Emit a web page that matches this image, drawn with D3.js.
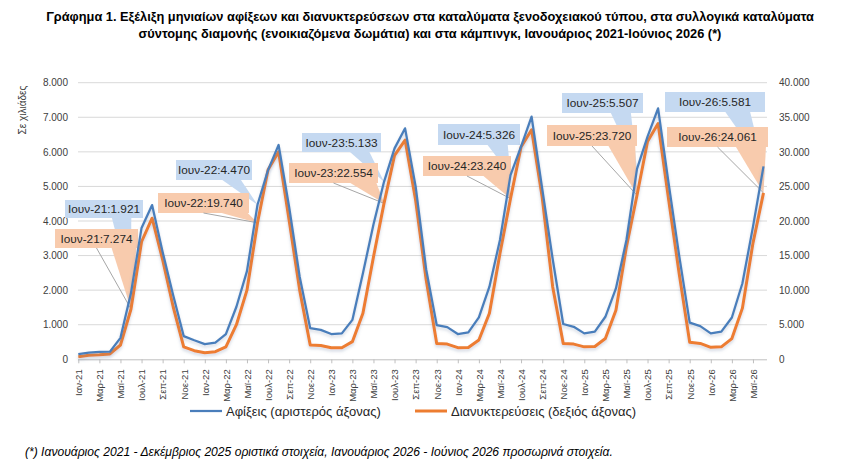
<!DOCTYPE html>
<html>
<head>
<meta charset="utf-8">
<script src="https://cdn.jsdelivr.net/npm/d3@7/dist/d3.min.js"></script>
<style>
  html, body { margin: 0; padding: 0; background: #fff; }
  svg { display: block; }
  text { font-family: "Liberation Sans", Arial, sans-serif; }
</style>
</head>
<body>
<svg id="chart" width="859" height="466"></svg>
<script>
// ---------------- DATA ----------------
const monthNames = ["Ιαν","Φεβ","Μαρ","Απρ","Μαϊ","Ιουν","Ιουλ","Αυγ","Σεπ","Οκτ","Νοε","Δεκ"];
const years = ["21","22","23","24","25","26"];
const categories = [];
years.forEach(y => monthNames.forEach(m => { if (categories.length < 66) categories.push(m + "-" + y); }));

// Arrivals (thousands) – left axis
const arrivals = [
  150, 190, 215, 220, 620, 1921, 3800, 4460, 3100, 1850, 670, 550,
  440, 480, 730, 1520, 2550, 4470, 5470, 6200, 4410, 2390, 900, 850,
  730, 750, 1140, 2490, 3900, 5133, 6100, 6680, 5000, 2600, 990, 930,
  730, 780, 1210, 2100, 3450, 5326, 6150, 7020, 4950, 2900, 1020, 940,
  750, 800, 1230, 2050, 3450, 5507, 6440, 7260, 5090, 3000, 1060, 960,
  750, 800, 1210, 2200, 3830, 5581
];
// Overnight stays (thousands) – right axis
const nights = [
  380, 580, 650, 770, 2070, 7274, 17000, 20400, 14400, 7600, 1800, 1250,
  950, 1100, 1800, 5000, 10000, 19740, 27400, 30000, 20100, 10000, 2070, 2000,
  1680, 1680, 2550, 6650, 14800, 22554, 29500, 31700, 23000, 11500, 2300, 2200,
  1680, 1700, 2800, 6650, 15300, 23240, 30700, 33200, 23500, 10500, 2300, 2200,
  1800, 1850, 3000, 7100, 16300, 23720, 31500, 34100, 23100, 12400, 2450, 2300,
  1730, 1800, 3000, 7400, 16800, 24061
];
const leftTicks = [0, 1000, 2000, 3000, 4000, 5000, 6000, 7000, 8000];
const rightTicks = [0, 5000, 10000, 15000, 20000, 25000, 30000, 35000, 40000];
const calloutMonths = ["Ιουν-21","Ιουν-22","Ιουν-23","Ιουν-24","Ιουν-25","Ιουν-26"];
const seriesNames = ["Αφίξεις (αριστερός άξονας)", "Διανυκτερεύσεις (δεξιός άξονας)"];
const titleLines = [
  "Γράφημα 1. Εξέλιξη μηνιαίων αφίξεων και διανυκτερεύσεων στα καταλύματα ξενοδοχειακού τύπου, στα συλλογικά καταλύματα",
  "σύντομης διαμονής (ενοικιαζόμενα δωμάτια) και στα κάμπινγκ, Ιανουάριος 2021-Ιούνιος 2026 (*)"
];
const yAxisTitle = "Σε χιλιάδες";
const footnote = "(*) Ιανουάριος 2021 - Δεκέμβριος 2025 οριστικά στοιχεία, Ιανουάριος 2026 - Ιούνιος 2026 προσωρινά στοιχεία.";

// ---------------- LAYOUT ----------------
const W = 859, H = 466;
const plot = { left: 78, right: 767, top: 82.7, bottom: 359.3 };
const colors = { blue: "#4a7ebb", orange: "#ed7d31", blueBox: "#c5d9f1", orangeBox: "#f8cbad", grid: "#d9d9d9" };
// callout boxes [x0, y0, x1, y1]
const blueBoxes = [
  [65, 200, 143, 218], [176, 160, 252, 180], [302, 133, 381, 152],
  [438, 124, 520, 145], [562, 93, 643, 113], [665, 92, 765, 112]
];
const orangeBoxes = [
  [55, 229, 138, 248], [158, 193, 249, 213], [289, 163, 378, 183],
  [423, 156, 511, 176], [547, 125, 637, 146], [667, 127, 768, 147]
];

const fmt = d3.formatLocale({ decimal: ",", thousands: ".", grouping: [3], currency: ["€", ""] }).format(",d");

const svg = d3.select("#chart");
svg.append("rect").attr("width", W).attr("height", H).attr("fill", "#fff");

const defs = svg.append("defs");
const f = defs.append("filter").attr("id", "shadow").attr("x", "-5%").attr("y", "-5%").attr("width", "110%").attr("height", "120%");
f.append("feDropShadow").attr("dx", 0).attr("dy", 2.2).attr("stdDeviation", 1.5)
  .attr("flood-color", "#6b7fa0").attr("flood-opacity", 0.3);

const x = d3.scalePoint().domain(d3.range(categories.length)).range([78.3, 763.5]);
const yL = d3.scaleLinear().domain([0, 8000]).range([plot.bottom, plot.top]);
const yR = d3.scaleLinear().domain([0, 40000]).range([plot.bottom, plot.top]);

// Title
titleLines.forEach((t, i) => {
  svg.append("text").attr("x", 430).attr("y", 21 + i * 17).attr("text-anchor", "middle")
    .attr("font-size", 12.8).attr("font-weight", "bold").attr("fill", "#000").text(t);
});

// gridlines
svg.append("g").selectAll("line").data(leftTicks.slice(1)).join("line")
  .attr("x1", plot.left).attr("x2", plot.right)
  .attr("y1", d => yL(d)).attr("y2", d => yL(d))
  .attr("stroke", colors.grid).attr("stroke-width", 1);

// left axis labels
const gL = svg.append("g").attr("transform", `translate(${plot.left},0)`)
  .call(d3.axisLeft(yL).tickValues(leftTicks).tickFormat(fmt).tickSize(0).tickPadding(10));
gL.select(".domain").remove();
gL.selectAll("text").attr("font-size", 10).attr("fill", "#404040").attr("font-family", "Liberation Sans, Arial, sans-serif");

// right axis labels
const gR = svg.append("g").attr("transform", `translate(${plot.right},0)`)
  .call(d3.axisRight(yR).tickValues(rightTicks).tickFormat(fmt).tickSize(0).tickPadding(12));
gR.select(".domain").remove();
gR.selectAll("text").attr("font-size", 10).attr("fill", "#404040").attr("font-family", "Liberation Sans, Arial, sans-serif");

// x axis
const xTickIdx = d3.range(0, categories.length, 2);
const gX = svg.append("g").attr("transform", `translate(0,${plot.bottom})`)
  .call(d3.axisBottom(x).tickValues(xTickIdx).tickFormat(i => categories[i]).tickSize(4).tickSizeOuter(0));
gX.select(".domain").attr("d", `M${plot.left},0.5H${plot.right}`).attr("stroke", "#bfbfbf");
gX.selectAll(".tick line").attr("stroke", "#bfbfbf");
gX.selectAll("text").attr("font-size", 9.5).attr("fill", "#404040")
  .attr("font-family", "Liberation Sans, Arial, sans-serif")
  .attr("transform", "rotate(-90)").attr("text-anchor", "end")
  .attr("x", -10).attr("y", 0).attr("dy", "0.35em");

// y axis title
svg.append("text").attr("transform", "translate(26,110) rotate(-90)").attr("text-anchor", "middle")
  .attr("font-size", 10).attr("fill", "#404040").text(yAxisTitle);

// callouts (drawn beneath the series lines)
const calloutIdx = calloutMonths.map(m => categories.indexOf(m));
const gC = svg.append("g");
const gT = svg.append("g");
function drawCallout(box, tipX, tipY, fill, baseFrac, label, leader) {
  const [x0, y0, x1, y1] = box;
  const w = x1 - x0;
  const bx0 = x0 + w * baseFrac[0], bx1 = x0 + w * baseFrac[1];
  gC.append("path").attr("d", `M${bx0},${y1 - 0.5}L${tipX},${tipY}L${bx1},${y1 - 0.5}Z`).attr("fill", fill);
  gC.append("rect").attr("x", x0).attr("y", y0).attr("width", w).attr("height", y1 - y0).attr("fill", fill);
  if (leader) {
    gC.append("line").attr("x1", x0 + w * 0.5).attr("y1", y1).attr("x2", tipX).attr("y2", tipY)
      .attr("stroke", "#a6a6a6").attr("stroke-width", 1);
  }
  gT.append("text").attr("x", (x0 + x1) / 2).attr("y", (y0 + y1) / 2).attr("dy", "0.36em")
    .attr("text-anchor", "middle").attr("font-size", 11.8).attr("fill", "#262626").text(label);
}
calloutIdx.forEach((idx, k) => {
  drawCallout(blueBoxes[k], x(idx), yL(arrivals[idx]), colors.blueBox, [0.6, 0.85],
    categories[idx] + ":" + fmt(arrivals[idx]), false);
});
calloutIdx.forEach((idx, k) => {
  drawCallout(orangeBoxes[k], x(idx), yR(nights[idx]), colors.orangeBox, [0.68, 0.98],
    categories[idx] + ":" + fmt(nights[idx]), true);
});
gT.raise();

// lines
const lineL = d3.line().x((d, i) => x(i)).y(d => yL(d));
const lineR = d3.line().x((d, i) => x(i)).y(d => yR(d));
const gLines = svg.append("g");
gLines.append("path").datum(nights).attr("d", lineR).attr("fill", "none")
  .attr("stroke", colors.orange).attr("stroke-width", 3).attr("stroke-linejoin", "round").attr("filter", "url(#shadow)");
gLines.append("path").datum(arrivals).attr("d", lineL).attr("fill", "none")
  .attr("stroke", colors.blue).attr("stroke-width", 2.25).attr("stroke-linejoin", "round").attr("filter", "url(#shadow)");
gT.raise();

// legend
const legend = svg.append("g");
[[190, 222, colors.blue, 2.25, 226], [415, 447, colors.orange, 3, 451]].forEach((l, i) => {
  legend.append("line").attr("x1", l[0]).attr("x2", l[1]).attr("y1", 411).attr("y2", 411)
    .attr("stroke", l[2]).attr("stroke-width", l[3]);
  legend.append("text").attr("x", l[4]).attr("y", 411).attr("dy", "0.35em")
    .attr("font-size", 13).attr("fill", "#262626").text(seriesNames[i]);
});

// footnote
svg.append("text").attr("x", 25).attr("y", 456).attr("font-size", 12.1).attr("font-style", "italic")
  .attr("fill", "#000").text(footnote);
</script>
</body>
</html>
